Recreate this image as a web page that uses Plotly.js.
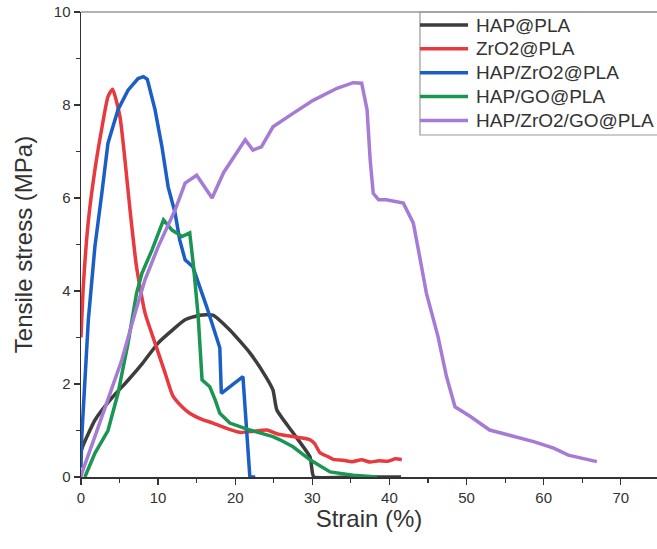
<!DOCTYPE html>
<html>
<head>
<meta charset="utf-8">
<script src="https://cdn.plot.ly/plotly-3.0.1.min.js"></script>
<style>html,body{margin:0;padding:0;background:#fff;}#chart{width:657px;height:549px;}</style>
</head>
<body>
<div id="chart"></div>
<script>
// HAP@PLA
const hapX = [0, 0.2, 1.8, 4.0, 6.1, 8.0, 10.0, 12.0, 13.5, 15.4, 17.1, 19.3, 21.9, 24.0, 24.9, 25.4, 27.5, 29.7, 30.0, 30.2, 35.0, 41.5];
const hapY = [0.55, 0.65, 1.22, 1.70, 2.08, 2.45, 2.88, 3.18, 3.38, 3.48, 3.48, 3.16, 2.67, 2.15, 1.87, 1.44, 0.95, 0.43, 0.1, 0.0, 0.0, 0.0];
// ZrO2@PLA
const zrX = [0, 0.3, 0.95, 1.8, 2.7, 3.5, 4.1, 5.06, 5.7, 6.36, 7.2, 8.3, 9.6, 10.9, 11.9, 13.1, 14.1, 15.5, 17.1, 18.8, 20.6, 22.3, 24.1, 25.6, 27.1, 28.6, 29.7, 30.3, 31.0, 32.0, 32.7, 34.0, 35.2, 36.4, 37.5, 38.6, 39.8, 40.8, 41.6];
const zrY = [3.0, 4.1, 5.5, 6.6, 7.5, 8.18, 8.34, 7.74, 6.82, 5.74, 4.52, 3.53, 2.88, 2.24, 1.75, 1.51, 1.37, 1.25, 1.16, 1.05, 0.96, 0.98, 1.01, 0.92, 0.88, 0.84, 0.8, 0.72, 0.52, 0.44, 0.38, 0.36, 0.33, 0.37, 0.32, 0.35, 0.34, 0.39, 0.37];
// HAP/ZrO2@PLA
const hzX = [0, 0.1, 0.95, 1.8, 2.7, 3.5, 4.8, 6.1, 7.4, 8.1, 8.6, 9.6, 10.5, 11.3, 12.2, 12.8, 13.5, 14.5, 16.3, 18.0, 18.2, 21.0, 21.9, 22.6];
const hzY = [0.2, 0.87, 3.38, 4.95, 6.1, 7.18, 7.9, 8.32, 8.57, 8.61, 8.55, 7.9, 7.1, 6.24, 5.68, 5.1, 4.67, 4.52, 3.66, 2.78, 1.8, 2.16, 0.0, 0.0];
// HAP/GO@PLA
const hgX = [0.5, 1.8, 3.5, 4.8, 6.1, 7.2, 7.9, 9.2, 10.7, 11.8, 12.4, 13.1, 14.1, 14.6, 15.2, 15.7, 16.7, 17.4, 18.0, 19.3, 21.9, 24.9, 25.8, 27.5, 29.7, 32.3, 35.3, 37.5, 38.4];
const hgY = [0.0, 0.51, 1.0, 1.8, 2.88, 3.95, 4.38, 4.88, 5.53, 5.31, 5.25, 5.17, 5.25, 4.52, 3.45, 2.09, 1.94, 1.66, 1.37, 1.16, 1.01, 0.87, 0.8, 0.65, 0.37, 0.11, 0.04, 0.0, 0.0];
// HAP/ZrO2/GO@PLA
const hzgX = [0, 0.1, 1.8, 3.5, 5.3, 7.0, 8.3, 10.0, 12.2, 13.5, 15.0, 17.0, 18.5, 21.3, 22.3, 23.4, 24.9, 27.5, 30.1, 33.2, 35.3, 36.4, 37.1, 37.5, 37.9, 38.6, 39.6, 41.8, 43.1, 44.0, 44.8, 46.3, 47.4, 48.5, 50.5, 53.0, 56.1, 58.7, 61.3, 63.2, 66.9];
const hzgY = [0, 0.08, 0.87, 1.66, 2.52, 3.52, 4.24, 4.95, 5.74, 6.32, 6.49, 6.0, 6.55, 7.25, 7.03, 7.1, 7.53, 7.82, 8.1, 8.36, 8.48, 8.47, 7.9, 6.82, 6.1, 5.96, 5.96, 5.89, 5.46, 4.67, 3.95, 3.02, 2.16, 1.51, 1.3, 1.01, 0.87, 0.76, 0.62, 0.47, 0.33];

const names = ['HAP@PLA', 'ZrO2@PLA', 'HAP/ZrO2@PLA', 'HAP/GO@PLA', 'HAP/ZrO2/GO@PLA'];
const colors = ['#3d3d3d', '#e8393f', '#1b5ec6', '#1a9652', '#a57bd5'];
const lineShapes = ['spline', 'spline', 'linear', 'linear', 'linear'];
const xs = [hapX, zrX, hzX, hgX, hzgX];
const ys = [hapY, zrY, hzY, hgY, hzgY];

const traces = names.map((n, i) => ({
  x: xs[i], y: ys[i], name: n, type: 'scatter', mode: 'lines',
  line: {color: colors[i], width: 3.5, shape: lineShapes[i], smoothing: 0.5}
}));

const ff = 'Arial, Liberation Sans, sans-serif';
const axFont = {family: ff, size: 15, color: '#333'};

// Legend drawn as shapes + annotations (layout positions in paper units)
const legX0 = 0.5885, legLineX1 = 0.672, legTextX = 0.682;
const legTop = 1.0, legBottom = 0.7355, legFirstY = 0.972, legStep = 0.0513;
const shapes = [
  {type: 'rect', xref: 'paper', yref: 'paper', x0: legX0, x1: 1.03, y0: legBottom, y1: legTop,
   line: {color: '#999', width: 1.2}, fillcolor: '#fff', layer: 'above'},
  {type: 'line', xref: 'paper', yref: 'paper', x0: 0, x1: 1, y0: 1, y1: 1, line: {color: '#999', width: 1.5}}
];
const annotations = [];
names.forEach((n, i) => {
  const yy = legFirstY - i * legStep;
  shapes.push({type: 'line', xref: 'paper', yref: 'paper', x0: legX0, x1: legLineX1, y0: yy, y1: yy,
               line: {color: colors[i], width: 3.5}, layer: 'above'});
  annotations.push({xref: 'paper', yref: 'paper', x: legTextX, y: yy, xanchor: 'left', yanchor: 'middle',
                    text: n, showarrow: false, font: {family: ff, size: 19, color: '#333'}});
});

const layout = {
  width: 657, height: 549,
  margin: {l: 81, r: 0, t: 12, b: 72, autoexpand: false},
  paper_bgcolor: '#fff', plot_bgcolor: '#fff',
  showlegend: false,
  xaxis: {
    range: [0, 74.7], showgrid: false, zeroline: false,
    tickvals: [0, 10, 20, 30, 40, 50, 60, 70],
    ticks: 'outside', ticklen: 6, tickwidth: 1.3, tickcolor: '#333',
    showline: true, linecolor: '#333', linewidth: 1.5,
    minor: {dtick: 5, tick0: 0, ticks: 'outside', ticklen: 4, tickcolor: '#333', tickwidth: 1.2},
    tickfont: axFont,
    title: {text: 'Strain (%)', font: {family: ff, size: 24, color: '#333'}, standoff: 5}
  },
  yaxis: {
    range: [0, 10], showgrid: false, zeroline: false,
    tickvals: [0, 2, 4, 6, 8, 10],
    ticks: 'outside', ticklen: 6, tickwidth: 1.3, tickcolor: '#333',
    showline: true, linecolor: '#333', linewidth: 1.5,
    minor: {dtick: 1, tick0: 0, ticks: 'outside', ticklen: 4, tickcolor: '#333', tickwidth: 1.2},
    tickfont: axFont,
    title: {text: 'Tensile stress (MPa)', font: {family: ff, size: 24, color: '#333'}, standoff: 14}
  },
  shapes: shapes,
  annotations: annotations
};

Plotly.newPlot('chart', traces, layout, {displayModeBar: false, staticPlot: true});
</script>
</body>
</html>
